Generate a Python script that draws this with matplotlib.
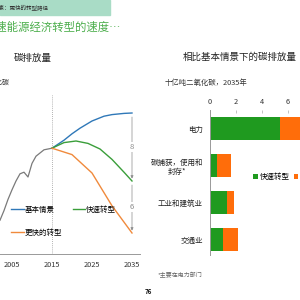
import matplotlib.pyplot as plt
from matplotlib.lines import Line2D

plt.rcParams['font.family'] = ['Noto Sans CJK SC', 'DejaVu Sans']

# 碳排放量 (亿吨二氧化碳, 近似读数)
hist_years = [2002, 2003, 2004, 2005, 2006, 2007, 2008, 2009, 2010, 2011, 2012, 2013, 2014, 2015]
hist_vals = [24.6, 25.8, 27.2, 28.4, 29.5, 30.4, 30.6, 30.0, 31.7, 32.6, 33.0, 33.4, 33.5, 33.6]

base_years = [2015, 2018, 2020, 2022, 2025, 2028, 2030, 2033, 2035]
base_vals = [33.6, 34.6, 35.4, 36.1, 37.0, 37.6, 37.8, 37.95, 38.0]

fast_years = [2015, 2018, 2021, 2024, 2027, 2030, 2033, 2035]
fast_vals = [33.6, 34.3, 34.5, 34.2, 33.5, 32.2, 30.6, 29.5]

faster_years = [2015, 2020, 2025, 2030, 2035]
faster_vals = [33.6, 32.8, 30.5, 26.4, 23.0]

year_ticks = [2005, 2015, 2025, 2035]

# 相比基本情景下的碳排放量 (十亿吨二氧化碳, 2035年)
sectors = ['电力', '碳捕获，使用和\n封存*', '工业和建筑业', '交通业']
fast_cut = [5.4, 0.5, 1.3, 1.0]
faster_cut = [3.0, 1.1, 0.55, 1.15]
x_ticks = [0, 2, 4, 6]

c_blue = '#2f78b8'
c_green = '#3a9e3a'
c_orange = '#f08a3c'
bar_green = '#1f9a1f'
bar_orange = '#ff6d0a'
gray = '#8a8a8a'

fig = plt.figure(figsize=(3, 3), dpi=100)
W, H = 300.0, 300.0

# 顶部横幅与标题
fig.patches.append(plt.Rectangle((0, 1 - 15 / H), 110 / W, 15 / H, transform=fig.transFigure,
                                 color='#a9dcc6', zorder=0))
fig.text(-6 / W, 1 - 7.5 / H, '要素：更快的转型路径', fontsize=4, color='#333333',
         style='italic', va='center', ha='left')
fig.text(-15 / W, 1 - 27 / H, '加速能源经济转型的速度⋯', fontsize=8.2, color='#4cae4c',
         va='center', ha='left')

# 左侧：碳排放量
fig.text(33 / W, 1 - 58 / H, '碳排放量', fontsize=6.8, color='#222222', ha='center', va='center')
fig.text(10 / W, 1 - 83 / H, '十亿吨二氧化碳', fontsize=5, color='#333333', ha='right', va='center')

ax1 = fig.add_axes([0, 1 - 254 / H, 140 / W, (254 - 95) / H])
ax1.set_xlim(2002, 2037)
ax1.set_ylim(20.375, 40.25)
ax1.axvline(2015, color='#999999', lw=0.6, ls=(0, (1, 1.5)))
ax1.plot(hist_years, hist_vals, color='#7a7a7a', lw=0.9)
ax1.plot(base_years, base_vals, color=c_blue, lw=1.0)
ax1.plot(fast_years, fast_vals, color=c_green, lw=1.0)
ax1.plot(faster_years, faster_vals, color=c_orange, lw=1.0)

# 差值箭头
end_year = base_years[-1]
for top, bot in [(base_vals[-1], fast_vals[-1]), (fast_vals[-1], faster_vals[-1])]:
    ax1.annotate('', xy=(end_year, bot + 0.3), xytext=(end_year, top - 0.5),
                 arrowprops=dict(arrowstyle='-|>', color=gray, lw=0.5,
                                 mutation_scale=4, shrinkA=0, shrinkB=0))
    ax1.text(end_year, (top + bot) / 2, f'{top - bot:.0f}', fontsize=5.5, color=gray,
             ha='center', va='center',
             bbox=dict(facecolor='white', edgecolor='none', pad=0.6))

for side in ['left', 'right', 'top']:
    ax1.spines[side].set_visible(False)
ax1.spines['bottom'].set_color('#999999')
ax1.spines['bottom'].set_linewidth(0.7)
ax1.set_yticks([])
ax1.set_xticks(year_ticks)
ax1.tick_params(axis='x', length=0, labelsize=5.3, pad=5, labelcolor='#333333')

h = [Line2D([], [], color=c_blue, lw=1.0), Line2D([], [], color=c_orange, lw=1.0),
     Line2D([], [], color=c_green, lw=1.0)]
fig.legend(h, ['基本情景', '更快的转型', '快速转型'], ncol=2, frameon=False,
           loc='upper left', bbox_to_anchor=(11 / W, 1 - 206 / H), fontsize=5.4,
           handlelength=1.7, handletextpad=0.1, columnspacing=1.4, labelspacing=2.0,
           borderpad=0, borderaxespad=0)

# 右侧：相比基本情景下的碳排放量
fig.text(183 / W, 1 - 57 / H, '相比基本情景下的碳排放量', fontsize=6.8, color='#222222',
         ha='left', va='center')
fig.text(165 / W, 1 - 83 / H, '十亿吨二氧化碳，2035年', fontsize=5.3, color='#333333',
         ha='left', va='center')

ax2 = fig.add_axes([210 / W, 1 - 255 / H, 104 / W, 145 / H])
ypos = list(range(len(sectors)))
ax2.barh(ypos, fast_cut, height=0.62, color=bar_green, label='快速转型')
ax2.barh(ypos, faster_cut, left=fast_cut, height=0.62, color=bar_orange, label='更快的转型')
ax2.set_xlim(0, 8)
ax2.set_ylim(3.42, -0.5)
ax2.xaxis.tick_top()
ax2.set_xticks(x_ticks)
ax2.tick_params(axis='x', direction='in', length=2.5, width=0.5, color='#aaaaaa',
                labelsize=5.3, pad=3, labelcolor='#333333')
ax2.set_yticks(ypos)
ax2.set_yticklabels(sectors)
ax2.tick_params(axis='y', length=0, labelsize=5.4, pad=5, labelcolor='#222222')
ax2.get_yticklabels()[1].set_multialignment('center')
for side in ['right', 'top', 'bottom']:
    ax2.spines[side].set_visible(False)
ax2.spines['left'].set_color('#999999')
ax2.spines['left'].set_linewidth(0.7)
ax2.legend(ncol=2, frameon=False, loc='center left', bbox_to_anchor=(253 / W, 1 - 177 / H),
           bbox_transform=fig.transFigure, fontsize=5.4, handlelength=0.6, handleheight=0.6,
           handletextpad=0.3, columnspacing=0.5, borderpad=0, borderaxespad=0)

fig.text(158 / W, 1 - 275 / H, '*主要在电力部门', fontsize=4.3, color='#666666',
         ha='left', va='center')
fig.text(148 / W, 1 - 291 / H, '76', fontsize=4.5, color='#111111', fontweight='bold',
         ha='center', va='center')

fig.savefig('out.png', dpi=100, facecolor='white')
